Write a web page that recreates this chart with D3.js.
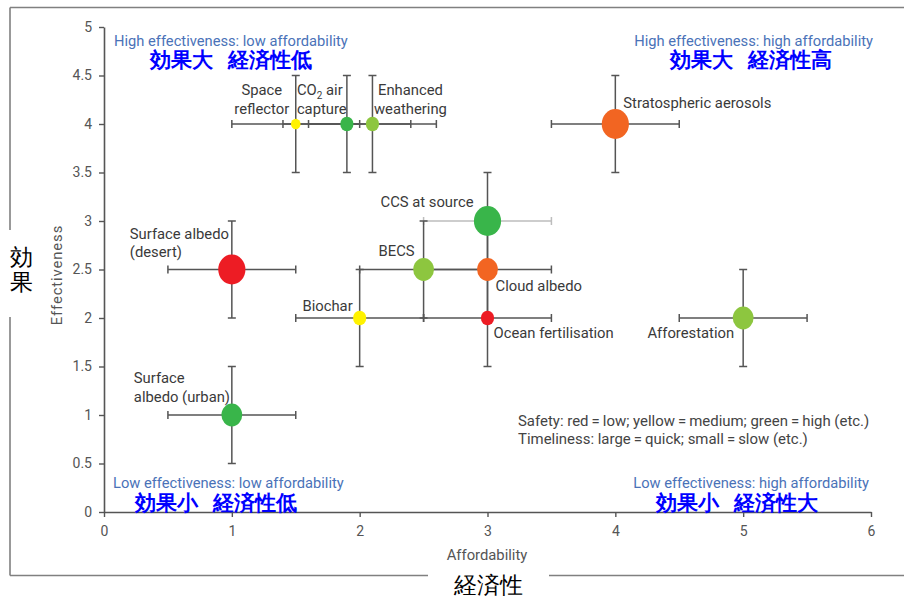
<!DOCTYPE html>
<html>
<head>
<meta charset="utf-8">
<script src="https://cdn.jsdelivr.net/npm/d3@7"></script>
<style>
  html, body { margin: 0; padding: 0; background: #fff; }
  svg { display: block; }
  text { font-family: Roboto, "Liberation Sans", Arial, sans-serif; }
</style>
</head>
<body>
<svg id="chart" width="904" height="596"></svg>
<script>
// Geoengineering options: affordability vs effectiveness
const methods = [
  "Space reflector", "CO2 air capture", "Enhanced weathering", "Stratospheric aerosols",
  "CCS at source", "BECS", "Cloud albedo", "Biochar", "Ocean fertilisation",
  "Surface albedo (desert)", "Afforestation", "Surface albedo (urban)"
];
const affordability = [1.5, 1.9, 2.1, 4, 3, 2.5, 3, 2, 3, 1, 5, 1];
const effectiveness = [4, 4, 4, 4, 3, 2.5, 2.5, 2, 2, 2.5, 2, 1];
const affordLow  = [1.0, 1.4, 1.6, 3.5, 2.5, 2.0, 2.5, 1.5, 2.5, 0.5, 4.5, 0.5];
const affordHigh = [2.0, 2.4, 2.6, 4.5, 3.5, 3.0, 3.5, 2.5, 3.5, 1.5, 5.5, 1.5];
const effectLow  = [3.5, 3.5, 3.5, 3.5, 2.5, 2.0, 2.0, 1.5, 1.5, 2.0, 1.5, 0.5];
const effectHigh = [4.5, 4.5, 4.5, 4.5, 3.5, 3.0, 3.0, 2.5, 2.5, 3.0, 2.5, 1.5];
// Safety rating (colour) and timeliness rating (size: 1 = slow ... 4 = quick)
const safety = ["medium", "high", "medium-high", "low-medium", "high", "medium-high",
                "low-medium", "medium", "low", "low", "medium-high", "high"];
const timeliness = [1, 2, 2, 4, 4, 3, 3, 2, 2, 4, 3, 3];

const xTicks = [0, 1, 2, 3, 4, 5, 6];
const yTicks = [0, 0.5, 1, 1.5, 2, 2.5, 3, 3.5, 4, 4.5, 5];

const quadrantEn = [
  "High effectiveness: low affordability", "High effectiveness: high affordability",
  "Low effectiveness: low affordability", "Low effectiveness: high affordability"
];
// Japanese captions: [effectiveness part, affordability part]
const quadrantJa = [["効果大", "経済性低"], ["効果大", "経済性高"], ["効果小", "経済性低"], ["効果小", "経済性大"]];
const legendLines = [
  "Safety: red\u2009=\u2009low; yellow\u2009=\u2009medium; green\u2009=\u2009high (etc.)",
  "Timeliness: large\u2009=\u2009quick; small\u2009=\u2009slow (etc.)"
];

// ---- styling / layout ----
const safetyColor = d3.scaleOrdinal()
  .domain(["low", "low-medium", "medium", "medium-high", "high"])
  .range(["#ed1c24", "#f26522", "#fff200", "#8dc63f", "#39b54a"]);
const radius = d3.scaleOrdinal().domain([1, 2, 3, 4]).range([4.8, 6.6, 10.4, 13.6]);

// label placement relative to each point (px), lines split by "|"
const labelLayout = {
  "Space reflector":        { text: "Space|reflector", dx: -34, dy: -29, anchor: "middle" },
  "CO2 air capture":        { text: "CO2 air|capture", dx: -50, dy: -29, anchor: "start" },
  "Enhanced weathering":    { text: "Enhanced|weathering", dx: 38, dy: -29, anchor: "middle" },
  "Stratospheric aerosols": { text: "Stratospheric aerosols", dx: 8, dy: -16, anchor: "start" },
  "CCS at source":          { text: "CCS at source", dx: -14, dy: -14, anchor: "end" },
  "BECS":                   { text: "BECS", dx: -9, dy: -14, anchor: "end" },
  "Cloud albedo":           { text: "Cloud albedo", dx: 8, dy: 21, anchor: "start" },
  "Biochar":                { text: "Biochar", dx: -7, dy: -7, anchor: "end" },
  "Ocean fertilisation":    { text: "Ocean fertilisation", dx: 6, dy: 20, anchor: "start" },
  "Surface albedo (desert)":{ text: "Surface albedo|(desert)", dx: -102, dy: -31, anchor: "start" },
  "Afforestation":          { text: "Afforestation", dx: -9, dy: 20, anchor: "end" },
  "Surface albedo (urban)": { text: "Surface|albedo (urban)", dx: -98, dy: -32, anchor: "start" }
};

const svg = d3.select("#chart");
const x = d3.scaleLinear().domain([0, 6]).range([104, 871]);
const y = d3.scaleLinear().domain([0, 5]).range([512, 27]);

const axisColor = "#555";
const frameColor = "#808080";

// outer frame with gaps for the Japanese axis titles
const frame = svg.append("g").attr("stroke", frameColor).attr("stroke-width", 1.6).attr("fill", "none");
frame.append("path").attr("d", "M10,7.5H904");
frame.append("path").attr("d", "M10,7.5V230M10,317V575.5");
frame.append("path").attr("d", "M10,575.5H428M549,575.5H904");

// axes
const xAxis = svg.append("g").attr("transform", `translate(0,${y(0)})`)
  .call(d3.axisBottom(x).tickValues(xTicks).tickFormat(d3.format("d"))
    .tickSize(5).tickSizeOuter(0).tickPadding(9));
const yAxis = svg.append("g").attr("transform", `translate(${x(0)},0)`)
  .call(d3.axisLeft(y).tickValues(yTicks).tickFormat(d => String(d))
    .tickSize(5).tickSizeOuter(0).tickPadding(7));
[xAxis, yAxis].forEach(a => {
  a.select(".domain").attr("stroke", axisColor).attr("stroke-width", 1.6);
  a.selectAll(".tick line").attr("stroke", axisColor).attr("stroke-width", 1.4);
  a.selectAll(".tick text").attr("fill", "#555").attr("font-size", 14)
    .attr("font-family", "Roboto, 'Liberation Sans', Arial, sans-serif");
});

svg.append("text").attr("x", 487).attr("y", 560).attr("text-anchor", "middle")
  .attr("font-size", 14.8).attr("fill", "#555").text("Affordability");
svg.append("text").attr("transform", "translate(62,275) rotate(-90)").attr("text-anchor", "middle")
  .attr("font-size", 14.8).attr("letter-spacing", 0.9).attr("fill", "#555").text("Effectiveness");

// Japanese axis titles
const jaFont = "'Noto Sans CJK JP', 'Noto Sans CJK SC', sans-serif";
svg.append("text").attr("x", 488).attr("y", 593).attr("text-anchor", "middle")
  .attr("font-family", jaFont).attr("font-size", 23).attr("fill", "#000").text("経済性");
const vt = svg.append("text").attr("font-family", jaFont).attr("font-size", 23)
  .attr("fill", "#000").attr("text-anchor", "middle");
vt.append("tspan").attr("x", 21).attr("y", 265).text("効");
vt.append("tspan").attr("x", 21).attr("y", 290).text("果");

// error bars
const idx = d3.range(methods.length);
const cap = 4;
const bars = svg.append("g").attr("fill", "none").attr("stroke-width", 1.5);
idx.forEach(i => {
  const cx = x(affordability[i]), cy = y(effectiveness[i]);
  const hColor = methods[i] === "CCS at source" ? "#bdbdbd" : axisColor;
  const xl = x(affordLow[i]), xh = x(affordHigh[i]);
  const yl = y(effectLow[i]), yh = y(effectHigh[i]);
  bars.append("path").attr("stroke", hColor)
    .attr("d", `M${xl},${cy}H${xh}M${xl},${cy - cap}V${cy + cap}M${xh},${cy - cap}V${cy + cap}`);
  bars.append("path").attr("stroke", axisColor)
    .attr("d", `M${cx},${yl}V${yh}M${cx - cap},${yl}H${cx + cap}M${cx - cap},${yh}H${cx + cap}`);
});

// markers: colour = safety, size = timeliness
svg.append("g").selectAll("ellipse").data(idx).join("ellipse")
  .attr("cx", i => x(affordability[i]))
  .attr("cy", i => y(effectiveness[i]))
  .attr("rx", i => radius(timeliness[i]))
  .attr("ry", i => radius(timeliness[i]) * 1.1)
  .attr("fill", i => safetyColor(safety[i]));

// point labels
const labels = svg.append("g").attr("font-size", 14.8).attr("fill", "#3a3a3a");
idx.forEach(i => {
  const L = labelLayout[methods[i]];
  const px = x(affordability[i]) + L.dx, py = y(effectiveness[i]) + L.dy;
  const t = labels.append("text").attr("text-anchor", L.anchor);
  L.text.split("|").forEach((line, k) => {
    const ts = t.append("tspan").attr("x", px).attr("y", py + k * 18.5);
    if (line.startsWith("CO2")) {
      ts.append("tspan").text("CO");
      ts.append("tspan").attr("font-size", 10).attr("dy", 3.5).text("2");
      ts.append("tspan").attr("dy", -3.5).text(line.slice(3));
    } else {
      ts.text(line);
    }
  });
});

// legend note
const legend = svg.append("g").attr("font-size", 14.95).attr("fill", "#444");
legendLines.forEach((line, k) => {
  legend.append("text").attr("x", 518).attr("y", 426 + k * 18).text(line);
});

// quadrant captions
const quadPos = [
  { x: 114, anchor: "start", yEn: 46, yJa: 67, xJa: 150 },
  { x: 873, anchor: "end", yEn: 46, yJa: 67, xJa: 670 },
  { x: 113, anchor: "start", yEn: 488, yJa: 510, xJa: 135 },
  { x: 869, anchor: "end", yEn: 488, yJa: 510, xJa: 656 }
];
quadPos.forEach((p, k) => {
  svg.append("text").attr("x", p.x).attr("y", p.yEn).attr("text-anchor", p.anchor)
    .attr("font-size", 14.7).attr("fill", "#4a72b8").text(quadrantEn[k]);
  const ja = svg.append("text").attr("x", p.xJa).attr("y", p.yJa)
    .attr("font-family", jaFont).attr("font-weight", "bold").attr("font-size", 21)
    .attr("fill", "#0000ff");
  ja.append("tspan").text(quadrantJa[k][0]);
  ja.append("tspan").attr("dx", 15).text(quadrantJa[k][1]);
});
</script>
</body>
</html>
